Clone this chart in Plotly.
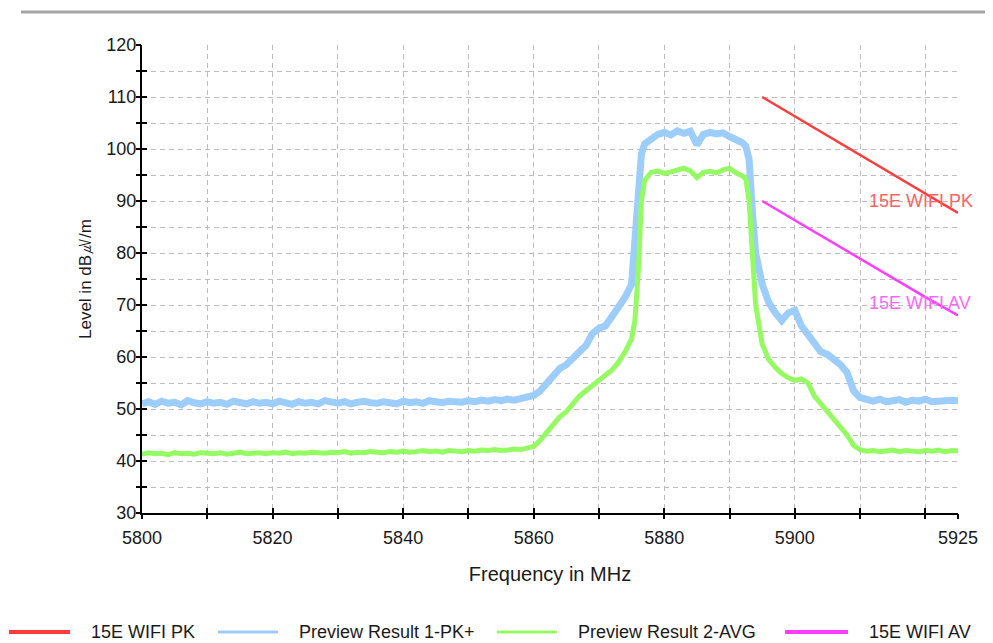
import plotly.graph_objects as go

# ---------------- data ----------------
limit_freq = [5895, 5900, 5905, 5910, 5915, 5920, 5925]
pk_limit = [110.0, 106.3, 102.6, 98.9, 95.1, 91.4, 87.7]
av_limit = [90.0, 86.3, 82.6, 78.9, 75.2, 71.5, 68.0]

pk_freq = (list(range(5800, 5876)) +
           [5875.5, 5876, 5876.5, 5877] + list(range(5878, 5893)) +
           [5892.5, 5893, 5893.5, 5894] + list(range(5895, 5926)))
pk_level = [
    51.0, 51.4, 50.9, 51.5, 51.1, 51.3, 50.8, 51.6, 51.2, 51.0,
    51.4, 51.1, 51.3, 50.9, 51.5, 51.2, 51.0, 51.4, 51.1, 51.3,
    51.0, 51.5, 51.2, 50.9, 51.4, 51.1, 51.3, 51.0, 51.6, 51.2,
    51.1, 51.4, 51.0, 51.3, 51.5, 51.2, 51.1, 51.4, 51.3, 51.0,
    51.5, 51.2, 51.4, 51.1, 51.6, 51.3, 51.2, 51.5, 51.4, 51.3,
    51.6, 51.4, 51.7, 51.5, 51.8, 51.6, 51.9, 51.7, 52.0, 52.3,
    52.6, 53.5, 55.0, 56.2, 57.8, 58.5, 60.0, 61.0, 62.2, 64.5,
    65.5, 66.0, 67.8, 69.5, 71.5, 74.0,
    82.0, 93.0, 99.0, 101.0,
    102.0, 102.8, 103.2, 102.7, 103.5, 103.0, 103.4, 100.8, 102.8, 103.2,
    102.9, 103.1, 102.4, 101.8, 101.2,
    100.5, 98.0, 88.0, 80.0,
    74.0, 70.5, 68.5, 67.0, 68.5, 69.0, 66.0, 64.5, 63.0, 61.0,
    60.5, 59.5, 58.5, 57.0, 53.5, 52.2, 51.8, 51.5, 51.9, 51.4,
    51.6, 51.8, 51.3, 51.7, 51.5, 51.9, 51.4, 51.6, 51.5, 51.7, 51.6,
]

avg_freq = pk_freq
avg_level = [
    41.3, 41.6, 41.4, 41.5, 41.2, 41.6, 41.4, 41.5, 41.3, 41.6,
    41.5, 41.4, 41.6, 41.3, 41.5, 41.7, 41.4, 41.5, 41.6, 41.4,
    41.6, 41.5, 41.7, 41.4, 41.6, 41.5, 41.7, 41.6, 41.5, 41.7,
    41.6, 41.8, 41.5, 41.7, 41.6, 41.8, 41.7, 41.6, 41.8, 41.7,
    41.9, 41.7, 41.8, 42.0, 41.8, 41.9, 41.7, 42.0, 41.9, 41.8,
    42.0, 41.9, 42.1, 42.0, 42.2, 42.0, 42.1, 42.3, 42.2, 42.4,
    42.8, 44.0, 45.5, 46.8, 48.5, 49.5, 51.0, 52.5, 53.5, 54.5,
    55.5, 56.5, 57.5, 59.0, 61.0, 63.5,
    67.0, 76.0, 90.0, 94.0,
    95.5, 95.8, 95.3, 95.6, 95.9, 96.3, 95.8, 94.5, 95.5, 95.7,
    95.4, 96.0, 96.3, 95.4, 94.8,
    94.2, 90.0, 80.0, 70.0,
    62.5, 59.5, 58.0, 56.8, 56.0, 55.5, 55.8, 55.0, 52.5, 51.0,
    49.5, 48.0, 46.5, 45.0, 43.0, 42.2, 41.9, 42.0, 41.8, 41.9,
    42.1, 41.8, 42.0, 41.9, 41.8, 42.0, 41.9, 42.1, 41.8, 42.0, 41.9,
]

x_ticks = [5800, 5810, 5820, 5830, 5840, 5850, 5860, 5870, 5880, 5890, 5900, 5910, 5920, 5925]
x_labels = ["5800", "", "5820", "", "5840", "", "5860", "", "5880", "", "5900", "", "", "5925"]
y_ticks = list(range(30, 121, 5))
y_labels = [str(v) if v % 10 == 0 else "" for v in y_ticks]

series_names = ["15E WIFI PK", "Preview Result 1-PK+", "Preview Result 2-AVG", "15E WIFI AV"]

# ---------------- figure ----------------
FONT = "Liberation Sans, Arial, sans-serif"
RED = "#ff3b3b"
BLUE = "#9dcdfb"
GREEN = "#95fb62"
MAGENTA = "#ff3cff"
colors = [RED, BLUE, GREEN, MAGENTA]

OFF = 8  # page body margin in front of the figure
W, H = 993 - OFF, 643 - OFF
ML, MR, MT, MB = 142 - OFF, 35, 45 - OFF, 130
PW, PH = W - ML - MR, H - MT - MB


def px_x(p):
    """page pixel x -> paper coordinate"""
    return (p - OFF - ML) / PW


def px_y(p):
    """page pixel y -> paper coordinate"""
    return (H - MB - (p - OFF)) / PH


fig = go.Figure()
fig.add_trace(go.Scatter(x=limit_freq, y=pk_limit, mode="lines", name=series_names[0],
                         line=dict(color=RED, width=2.5)))
fig.add_trace(go.Scatter(x=pk_freq, y=pk_level, mode="lines", name=series_names[1],
                         line=dict(color=BLUE, width=7)))
fig.add_trace(go.Scatter(x=avg_freq, y=avg_level, mode="lines", name=series_names[2],
                         line=dict(color=GREEN, width=5)))
fig.add_trace(go.Scatter(x=limit_freq, y=av_limit, mode="lines", name=series_names[3],
                         line=dict(color=MAGENTA, width=2.5)))
# empty trace hosting the overlay axes that draw the outer half of each tick
fig.add_trace(go.Scatter(x=[], y=[], xaxis="x2", yaxis="y2", showlegend=False, hoverinfo="skip"))

grid = dict(showgrid=True, gridcolor="#bdbdbd", gridwidth=1.3, griddash="5px,4px")

fig.update_layout(
    width=W, height=H,
    margin=dict(l=ML, r=MR, t=MT, b=MB, autoexpand=False),
    paper_bgcolor="white", plot_bgcolor="white",
    font=dict(family=FONT, size=18, color="#1a1a1a"),
    showlegend=False,
    xaxis=dict(range=[5800, 5925], tickmode="array", tickvals=x_ticks, ticktext=x_labels,
               ticks="inside", ticklen=5, tickwidth=1.5, tickcolor="black",
               showline=True, linecolor="black", linewidth=2, zeroline=False,
               ticklabelstandoff=7, automargin=False,
               title=dict(text="Frequency in MHz", font=dict(size=20), standoff=20),
               **grid),
    yaxis=dict(range=[30, 120], tickmode="array", tickvals=y_ticks, ticktext=y_labels,
               ticks="inside", ticklen=5, tickwidth=1.5, tickcolor="black",
               showline=True, linecolor="black", linewidth=2, zeroline=False,
               ticklabelstandoff=0, automargin=False,
               title=dict(text="Level in dB㎶/m", font=dict(size=17), standoff=10),
               **grid),
    xaxis2=dict(range=[5800, 5925], overlaying="x", anchor="y2", tickmode="array",
                tickvals=x_ticks, ticks="outside", ticklen=5, tickwidth=1.5, tickcolor="black",
                showticklabels=False, showgrid=False, zeroline=False, showline=False),
    yaxis2=dict(range=[30, 120], overlaying="y", anchor="x2", tickmode="array",
                tickvals=y_ticks, ticks="outside", ticklen=5, tickwidth=1.5, tickcolor="black",
                showticklabels=False, showgrid=False, zeroline=False, showline=False),
)

# limit-line labels
fig.add_annotation(x=5911.1, y=90, xref="x", yref="y", text="15E WIFI PK", showarrow=False,
                   xanchor="left", yanchor="middle", font=dict(size=18, color="#ff6262"))
fig.add_annotation(x=5911.1, y=70.4, xref="x", yref="y", text="15E WIFI AV", showarrow=False,
                   xanchor="left", yanchor="middle", font=dict(size=18, color="#ff66ff"))

# legend row along the bottom (line sample + name per series)
legend_y = px_y(632)
sample_px = [(9, 70), (218, 278), (497, 557), (785, 848)]
text_px = [89, 297, 576, 867]
sample_w = [4, 3, 3, 4]
for name, col, (a, b), t, lw in zip(series_names, colors, sample_px, text_px, sample_w):
    fig.add_shape(type="line", xref="paper", yref="paper", x0=px_x(a), x1=px_x(b),
                  y0=legend_y, y1=legend_y, line=dict(color=col, width=lw))
    fig.add_annotation(x=px_x(t), y=legend_y, xref="paper", yref="paper", text=name,
                       showarrow=False, xanchor="left", yanchor="middle",
                       font=dict(size=18, color="#1a1a1a"))

# gray rule across the top of the page
fig.add_shape(type="line", xref="paper", yref="paper", x0=px_x(21), x1=px_x(1000),
              y0=px_y(12), y1=px_y(12), line=dict(color="#a3a3a3", width=3))

fig.write_html("out.html", config={"displayModeBar": False})
